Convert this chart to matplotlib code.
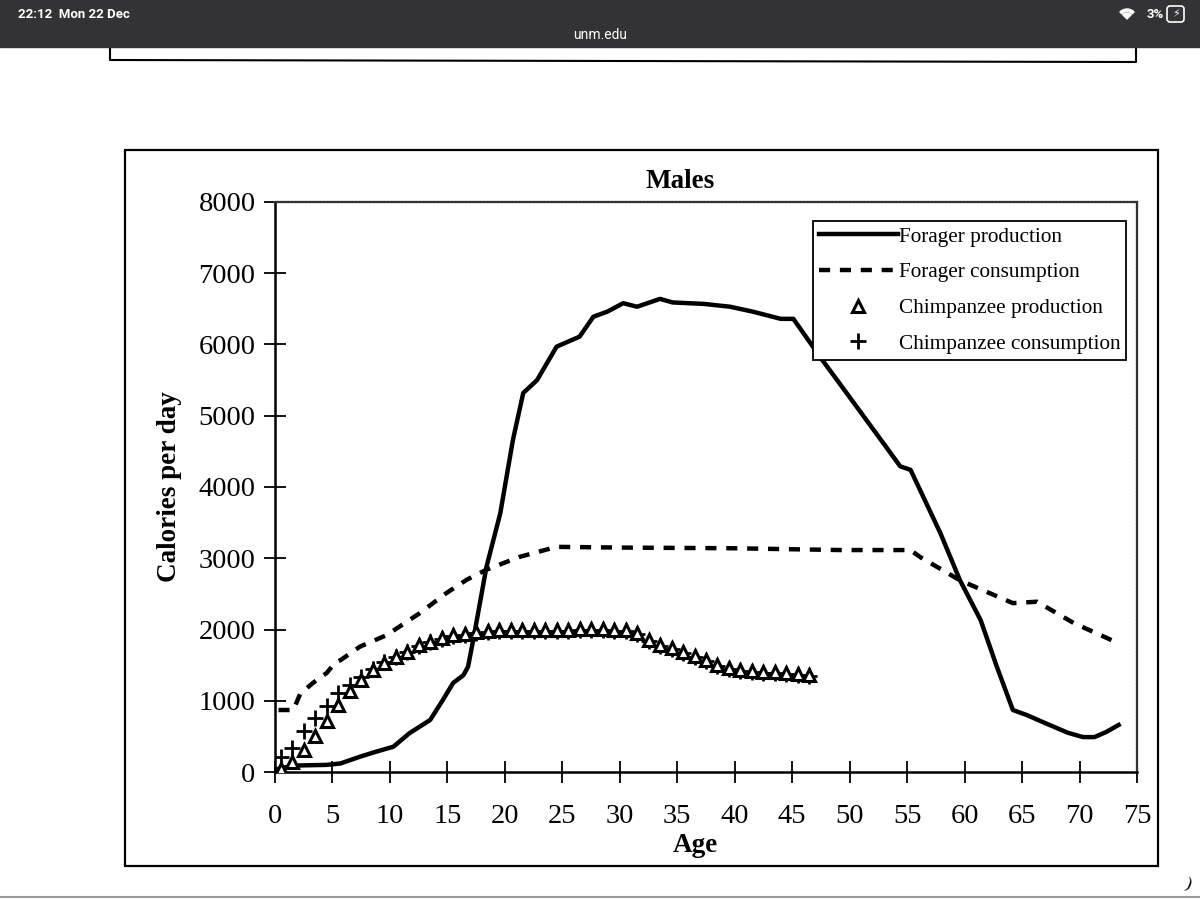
import matplotlib
matplotlib.use('Agg')
import matplotlib.pyplot as plt
from matplotlib.patches import Rectangle, FancyBboxPatch, Wedge

# ── Data ──────────────────────────────────────────────────────────────────────
fp_age = [0.2, 1.6, 3, 4.5, 5.7, 7.4, 8.8, 10.3, 11.7, 13.5, 14.6, 15.5, 16.4,
          16.8, 17.3, 18.4, 19.6, 20.7, 21.6, 22.8, 24.5, 26.5, 27.7, 28.9,
          30.3, 31.5, 33.5, 34.6, 37.3, 39.6, 41.6, 44, 45.1, 46.8, 47.4, 49,
          51, 53, 54.4, 55.3, 57.9, 59.6, 61.4, 62.8, 64.2, 65.4, 67.1, 69,
          70.3, 71.3, 72.3, 73.4]
fp_val = [40, 90, 95, 100, 120, 215, 285, 355, 545, 730, 1010, 1250, 1360,
          1480, 1900, 2880, 3630, 4660, 5320, 5500, 5970, 6110, 6390, 6460,
          6580, 6530, 6640, 6590, 6570, 6530, 6460, 6360, 6360, 5970, 5830, 5480,
          5040, 4600, 4290, 4240, 3350, 2690, 2130, 1480, 870, 800, 680, 550,
          490, 490, 560, 660]

fc_age = [0.3, 1.6, 2.2, 3.3, 4.5, 5.2, 5.7, 7.4, 9.7, 12.6, 14.9, 16.7, 18.4,
          21.3, 24.5, 30, 40, 49.2, 55.3, 56.1, 59.6, 64.2, 66.3, 69.5, 72.8]
fc_val = [870, 870, 1100, 1250, 1390, 1530, 1570, 1760, 1920, 2230, 2510, 2700,
          2840, 3020, 3160, 3150, 3140, 3115, 3115, 3020, 2690, 2370, 2390,
          2090, 1850]

chimp_age = [a + 0.5 for a in range(47)]
cp_val = [40, 145, 310, 500, 710, 940, 1130, 1290, 1430, 1530, 1620, 1690,
          1780, 1830, 1880, 1920, 1940, 1960, 1980, 1990, 2000, 2000, 2000,
          2000, 2000, 2000, 2010, 2010, 2010, 2000, 2000, 1950, 1850, 1780,
          1740, 1690, 1630, 1570, 1500, 1460, 1430, 1420, 1410, 1400, 1390,
          1380, 1360]
cc_val = [215, 335, 570, 760, 920, 1110, 1220, 1330, 1450, 1540, 1615, 1685,
          1765, 1820, 1870, 1905, 1925, 1945, 1965, 1975, 1985, 1985, 1985,
          1985, 1985, 1985, 1995, 1995, 1995, 1985, 1980, 1930, 1835, 1765,
          1725, 1675, 1615, 1555, 1485, 1445, 1415, 1405, 1395, 1385, 1375,
          1365, 1345]

x_ticks = list(range(0, 80, 5))
y_ticks = list(range(0, 9000, 1000))

SERIF = 'Liberation Serif'
SANS = ['Roboto', 'DejaVu Sans']

# ── Figure + pixel-space backdrop ────────────────────────────────────────────
W, H = 1200, 899
fig = plt.figure(figsize=(W / 100, H / 100), dpi=100)
bg = fig.add_axes([0, 0, 1, 1], zorder=0)
bg.set_xlim(0, W)
bg.set_ylim(H, 0)
bg.axis('off')

# remains of the previous page box
bg.text(668, 38, 'g', fontsize=16, family=SERIF, ha='center', va='center')
bg.plot([110, 110, 1136, 1136], [47, 60, 62, 47], color='black', lw=1.5)

# iPad status bar
bg.add_patch(Rectangle((0, 0), W, 47, color='#333335', zorder=5))
bg.text(18, 14, '22:12  Mon 22 Dec', color='white', fontsize=9.5,
        family=SANS, weight='bold', va='center', zorder=6)
bg.text(600, 35, 'unm.edu', color='white', fontsize=10,
        family=SANS, va='center', ha='center', zorder=6)
bg.text(1164, 14, '3%', color='white', fontsize=9.5, family=SANS,
        weight='bold', va='center', ha='right', zorder=6)
bg.add_patch(Wedge((1127, 19), 10, 225, 315, width=2.5, color='white', zorder=6))
bg.add_patch(Wedge((1127, 19), 6, 225, 315, width=2.5, color='white', zorder=6))
bg.add_patch(Wedge((1127, 19), 2.5, 225, 315, color='white', zorder=6))
bg.add_patch(FancyBboxPatch((1168, 7), 15, 14, boxstyle='round,pad=1,rounding_size=3',
                            fill=False, ec='white', lw=1.2, zorder=6))
bg.text(1175.5, 14, '\u26a1', color='white', fontsize=8, family='DejaVu Sans',
        ha='center', va='center', zorder=6)

# scanned figure frame + title/labels
bg.add_patch(Rectangle((125, 150), 1033, 716, fill=False, ec='black', lw=1.6))
bg.plot([0, W], [897, 897], color='#9a9a9a', lw=1.5)
bg.text(1188, 885, ')', fontsize=12, family=SERIF, rotation=-20,
        ha='center', va='center')
bg.text(680, 181, 'Males', fontsize=19.5, family=SERIF, weight='bold',
        ha='center', va='center')
bg.text(170, 487, 'Calories per day', fontsize=19.5, family=SERIF,
        weight='bold', rotation=90, ha='center', va='center')
bg.text(695, 845, 'Age', fontsize=19.5, family=SERIF, weight='bold',
        ha='center', va='center')

# ── Main plot ─────────────────────────────────────────────────────────────────
ax = fig.add_axes([275 / W, 1 - 772 / H, 862 / W, 570 / H], zorder=2)
ax.set_facecolor('none')

ax.plot(fp_age, fp_val, color='black', lw=3.2, solid_joinstyle='round',
        label='Forager production')
ax.plot(fc_age, fc_val, color='black', lw=3.2, linestyle=(0, (2.5, 2.2)),
        label='Forager consumption')
ax.plot(chimp_age, cc_val, linestyle='none', marker='+', markersize=11,
        markeredgecolor='black', markeredgewidth=2,
        label='Chimpanzee consumption', zorder=3)
ax.plot(chimp_age, cp_val, linestyle='none', marker='^', markersize=8.5,
        markerfacecolor='white', markeredgecolor='black', markeredgewidth=2.2,
        label='Chimpanzee production', zorder=4)

ax.set_xlim(0, 75)
ax.set_ylim(0, 8000)
ax.set_xticks(x_ticks)
ax.set_yticks(y_ticks)
for lab in ax.get_xticklabels() + ax.get_yticklabels():
    lab.set_family(SERIF)
ax.tick_params(axis='both', direction='inout', length=16, width=1.3,
               labelsize=20.5, colors='black')
ax.tick_params(axis='x', pad=15)
ax.tick_params(axis='y', pad=6)

for side in ['left', 'bottom']:
    ax.spines[side].set_linewidth(1.8)
for side in ['top', 'right']:
    ax.spines[side].set_linewidth(1.6)
    ax.spines[side].set_linestyle((0, (1, 0.6)))
    ax.spines[side].set_color('#333333')

# legend order as in the original
handles, labels = ax.get_legend_handles_labels()
order = [0, 1, 3, 2]
leg = ax.legend([handles[i] for i in order], [labels[i] for i in order],
                loc='upper left', bbox_to_anchor=(813 / W, 1 - 221 / H),
                bbox_transform=fig.transFigure, frameon=True, fancybox=False,
                prop={'family': SERIF, 'size': 15.3}, handlelength=3.7,
                handletextpad=0.05, labelspacing=0.74, borderpad=0.28,
                borderaxespad=0)
leg.get_frame().set_edgecolor('black')
leg.get_frame().set_linewidth(1.3)
leg.get_frame().set_alpha(1)

fig.savefig('out.png', dpi=100)
